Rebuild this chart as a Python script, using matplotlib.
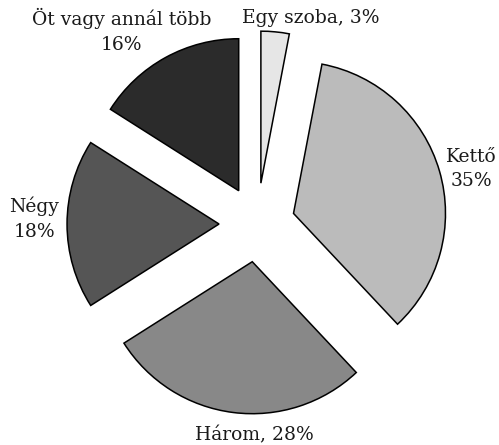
import matplotlib
matplotlib.use("Agg")
import matplotlib.pyplot as plt

# Lakások szobaszám szerint
labels = ["Egy szoba, 3%", "Kettő\n35%", "Három, 28%", "Négy\n18%", "Öt vagy annál több\n16%"]
values = [3, 35, 28, 18, 16]
colors = ["#e6e6e6", "#bbbbbb", "#888888", "#555555", "#2b2b2b"]
explode = [0.27, 0.25, 0.25, 0.25, 0.25]

# felirat helyek (adatkoordináta)
label_pos = [(0.355, 1.355), (1.41, 0.36), (-0.02, -1.388), (-1.467, 0.035), (-0.89, 1.27)]

plt.rcParams['font.family'] = ['DejaVu Serif']

fig = plt.figure(figsize=(4.99, 4.45), dpi=100)
ax = fig.add_axes([0, 0, 1, 1])

wedges, texts = ax.pie(values, labels=labels, colors=colors, explode=explode,
                       startangle=90, counterclock=False,
                       wedgeprops=dict(edgecolor="black", linewidth=1.1),
                       textprops=dict(fontsize=13.5, color="#1a1a1a"))

for t, (x, y) in zip(texts, label_pos):
    t.set_position((x, y))
    t.set_ha("center")
    t.set_va("center")
    t.set_multialignment("center")
    t.set_linespacing(1.45)

ax.set_xlim(-1.691, 1.592)
ax.set_ylim(-1.454, 1.474)
ax.set_aspect("equal")
ax.axis("off")

fig.savefig("out.png", dpi=100)
